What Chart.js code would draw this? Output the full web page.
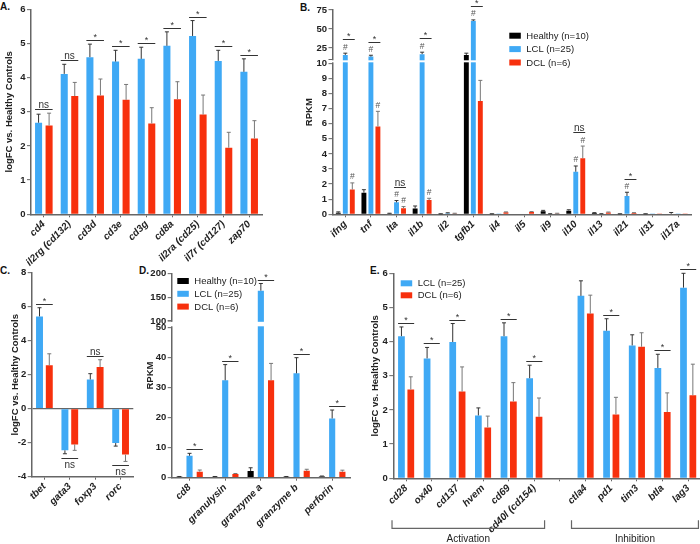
<!DOCTYPE html>
<html>
<head>
<meta charset="utf-8">
<title>T-cell gene expression in LCL and DCL lesions</title>
<script src="https://cdn.jsdelivr.net/npm/chart.js@4.4.1/dist/chart.umd.min.js"></script>
<style>
html,body{margin:0;padding:0;background:#fff}
body{position:relative;width:700px;height:544px;overflow:hidden;font-family:"Liberation Sans",Arial,sans-serif}
canvas{position:absolute}
.pl{position:absolute;font-weight:bold;font-size:10px;color:#111;line-height:10px}
</style>
</head>
<body>
<div class="pl" style="left:0;top:2px">A.</div>
<div class="pl" style="left:300px;top:3px">B.</div>
<div class="pl" style="left:0;top:266px">C.</div>
<div class="pl" style="left:139px;top:266px">D.</div>
<div class="pl" style="left:370px;top:266px">E.</div>
<canvas id="cA" width="268" height="268" style="left:0;top:0"></canvas>
<canvas id="cB" width="400" height="268" style="left:300px;top:0"></canvas>
<canvas id="cC" width="140" height="282" style="left:0;top:262px"></canvas>
<canvas id="cD" width="225" height="282" style="left:140px;top:262px"></canvas>
<canvas id="cE" width="337" height="282" style="left:368px;top:262px"></canvas>
<script>
// ---------------- DATA ----------------
const groupNames = ['Healthy (n=10)', 'LCL (n=25)', 'DCL (n=6)'];

// Panel A
const catsA = ['cd4','il2rg (cd132)','cd3d','cd3e','cd3g','cd8a','il2ra (cd25)','il7r (cd127)','zap70'];
const lclA = [2.68, 4.11, 4.60, 4.47, 4.55, 4.93, 5.22, 4.49, 4.17];
const lclAErr = [0.25, 0.28, 0.38, 0.33, 0.34, 0.41, 0.45, 0.31, 0.38];
const dclA = [2.60, 3.46, 3.48, 3.35, 2.66, 3.37, 2.92, 1.95, 2.22];
const dclAErr = [0.36, 0.40, 0.48, 0.45, 0.46, 0.51, 0.57, 0.45, 0.52];
const sigA = ['ns','ns','*','*','*','*','*','*','*'];
const ticksA = [0,1,2,3,4,5,6];

// Panel B
const catsB = ['ifng','tnf','lta','il1b','il2','tgfb1','il4','il5','il9','il10','il13','il21','il31','il17a'];
const healthyB = [0.10, 1.43, 0.05, 0.38, 0.02, 16.0, 0.02, 0.00, 0.20, 0.24, 0.08, 0.02, 0.02, 0.03];
const healthyBErr = [0.06, 0.20, 0.02, 0.17, 0.01, 2.3, 0.01, 0.00, 0.06, 0.06, 0.03, 0.01, 0.01, 0.09];
const lclB = [16.0, 13.8, 0.79, 17.0, 0.07, 60.6, 0.02, 0.00, 0.03, 2.82, 0.03, 1.21, 0.02, 0.02];
const lclBErr = [2.3, 1.8, 0.12, 2.6, 0.03, 1.4, 0.00, 0.00, 0.01, 0.38, 0.01, 0.25, 0.00, 0.00];
const dclB = [1.64, 5.82, 0.40, 0.94, 0.05, 7.50, 0.13, 0.15, 0.05, 3.71, 0.12, 0.08, 0.02, 0.02];
const dclBErr = [0.44, 1.00, 0.11, 0.12, 0.02, 1.37, 0.03, 0.03, 0.02, 0.81, 0.03, 0.03, 0.00, 0.00];
const hashLclB = [1,1,1,1,0,1,0,0,0,1,0,1,0,0];
const hashDclB = [1,1,1,1,0,0,0,0,0,1,0,0,0,0];
const sigB = ['*','*','ns','*','','*','','','','ns','','*','',''];
const ticksB = [0,1,2,3,4,5,6,7,8,9,10,25,50,75];

// Panel C
const catsC = ['tbet','gata3','foxp3','rorc'];
const lclC = [5.43, -2.45, 1.72, -2.02];
const lclCErr = [0.51, 0.20, 0.34, 0.18];
const dclC = [2.55, -2.10, 2.45, -2.70];
const dclCErr = [0.68, 0.35, 0.43, 0.40];
const sigC = ['*','ns','ns','ns'];
const ticksC = [-4,-2,0,2,4,6,8];

// Panel D
const catsD = ['cd8','granulysin','granzyme a','granzyme b','perforin'];
const healthyD = [0.3, 0.3, 2.2, 0.3, 0.4];
const healthyDErr = [0.1, 0.1, 1.1, 0.1, 0.15];
const lclD = [7.3, 32.4, 163.6, 34.7, 19.7];
const lclDErr = [0.8, 5.2, 15.0, 5.2, 2.8];
const dclD = [2.0, 1.2, 32.4, 2.3, 2.0];
const dclDErr = [0.55, 0.2, 5.6, 0.5, 0.5];
const sigD = ['*','*','*','*','*'];
const ticksD = [0,10,20,30,40,50,100,150,200];

// Panel E
const catsE = ['cd28','ox40','cd137','hvem','cd69','cd40l (cd154)','','ctla4','pd1','tim3','btla','lag3'];
const lclE = [4.16, 3.51, 3.99, 1.84, 4.16, 2.93, null, 5.34, 4.32, 3.89, 3.23, 5.58];
const lclEErr = [0.27, 0.32, 0.54, 0.22, 0.39, 0.38, null, 0.44, 0.35, 0.31, 0.40, 0.42];
const dclE = [2.60, null, 2.54, 1.49, 2.25, 1.80, null, 4.82, 1.87, 3.85, 1.94, 2.43];
const dclEErr = [0.37, null, 0.72, 0.33, 0.55, 0.55, null, 0.54, 0.50, 0.41, 0.56, 0.91];
const sigE = ['*','*','*','','*','*','','','*','','*','*'];
const ticksE = [0,1,2,3,4,5,6];
const bracketsE = [{from:0, to:5, label:'Activation'}, {from:7, to:11, label:'Inhibition'}];

// ---------------- STYLE ----------------
const AX = '#666';
const BLUE = '#3FA9F5', RED = '#F7300D', BLACK = '#000000';
const FAM = '"Liberation Sans", Arial, sans-serif';
Chart.defaults.font.family = FAM;
Chart.defaults.color = '#222';

// broken axis layout (fractions of axis height)
const BREAKS = {
  cB: [{from:0, to:10, f0:0, f1:0.739}, {from:10, to:75, f0:0.7577, f1:1}],
  cD: [{from:0, to:50, f0:0, f1:0.7358}, {from:100, to:200, f0:0.7666, f1:1}]
};

class BrokenLinear extends Chart.LinearScale {
  _segs() { return BREAKS[this.chart.canvas.id]; }
  getPixelForValue(v) {
    if (v === null || v === undefined || isNaN(v)) return NaN;
    const s = this._segs();
    let f;
    if (v <= s[0].to) f = s[0].f0 + (v - s[0].from) / (s[0].to - s[0].from) * (s[0].f1 - s[0].f0);
    else if (v < s[1].from) f = s[0].f1;
    else f = s[1].f0 + (v - s[1].from) / (s[1].to - s[1].from) * (s[1].f1 - s[1].f0);
    return this.bottom - f * (this.bottom - this.top);
  }
  getValueForPixel(p) {
    const s = this._segs();
    const f = (this.bottom - p) / (this.bottom - this.top);
    if (f <= s[0].f1) return s[0].from + (f - s[0].f0) / (s[0].f1 - s[0].f0) * (s[0].to - s[0].from);
    return s[1].from + (f - s[1].f0) / (s[1].f1 - s[1].f0) * (s[1].to - s[1].from);
  }
}
BrokenLinear.id = 'brokenLinear';
BrokenLinear.defaults = {};
Chart.register(BrokenLinear);

// ---------------- ANNOTATION PLUGIN ----------------
const annotPlugin = {
  id: 'annot',
  afterDatasetsDraw(chart, args, o) {
    const ctx = chart.ctx, ys = chart.scales.y, xs = chart.scales.x, ca = chart.chartArea;
    const dsets = chart.data.datasets;
    ctx.save();
    // axis break
    const br = BREAKS[chart.canvas.id];
    if (br) {
      const pLow = ys.bottom - br[0].f1 * (ys.bottom - ys.top);
      const pHigh = ys.bottom - br[1].f0 * (ys.bottom - ys.top);
      ctx.fillStyle = '#fff';
      ctx.fillRect(ca.left - 1.5, pHigh + 0.8, ca.right - ca.left + 2, pLow - pHigh - 1.8);
      ctx.strokeStyle = AX; ctx.lineWidth = 1;
      ctx.beginPath(); ctx.moveTo(ca.left - 4, pHigh); ctx.lineTo(ca.left, pHigh); ctx.stroke();
    }
    // error bars & extents
    const ext = dsets.map(() => []);
    dsets.forEach((ds, di) => {
      const meta = chart.getDatasetMeta(di);
      const errs = o.errors[di];
      const hashes = o.hashes ? o.hashes[di] : null;
      meta.data.forEach((bar, i) => {
        const v = ds.data[i];
        if (v === null || v === undefined) { ext[di][i] = null; return; }
        const e = errs ? (errs[i] || 0) : 0;
        const end = v < 0 ? v - e : v + e;
        const py = ys.getPixelForValue(end);
        let top = Math.min(py, bar.y, bar.base), bottom = Math.max(py, bar.y, bar.base);
        if (e > 0) {
          ctx.strokeStyle = o.errColors[di]; ctx.lineWidth = 1;
          ctx.beginPath();
          ctx.moveTo(bar.x, bar.y); ctx.lineTo(bar.x, py);
          ctx.moveTo(bar.x - 2, py); ctx.lineTo(bar.x + 2, py);
          ctx.stroke();
        }
        if (hashes && hashes[i]) {
          ctx.fillStyle = '#555';
          ctx.font = '8.5px ' + FAM;
          ctx.textAlign = 'center'; ctx.textBaseline = 'alphabetic';
          ctx.fillText('#', bar.x, py - 3.5);
          top = py - 9.7;
        }
        ext[di][i] = {top, bottom, neg: v < 0};
      });
    });
    // significance
    if (o.sig) {
      const a = o.sig.a, b = o.sig.b;
      const ma = chart.getDatasetMeta(a), mb = chart.getDatasetMeta(b);
      o.sig.marks.forEach((m, i) => {
        if (!m) return;
        const A = ma.data[i], B = mb.data[i];
        const w = A.width || 6;
        const bx = isFinite(B.x) ? B.x : A.x + 9.5;
        const x1 = A.x - w / 2, x2 = bx + w / 2, cx = (x1 + x2) / 2;
        const ea = ext[a][i], eb = ext[b][i];
        const list = [ea, eb].filter(Boolean);
        const neg = list.length && list.every(e => e.neg);
        ctx.strokeStyle = '#333'; ctx.lineWidth = 1;
        ctx.fillStyle = '#333'; ctx.textAlign = 'center';
        ctx.font = (m === '*' ? '9px ' : '10px ') + FAM;
        if (!neg) {
          const ly = Math.round(Math.min(...list.map(e => e.top)) - 4) + 0.5;
          ctx.beginPath(); ctx.moveTo(x1, ly); ctx.lineTo(x2, ly); ctx.stroke();
          ctx.textBaseline = 'alphabetic';
          ctx.fillText(m, cx, ly - (m === '*' ? 0.5 : 2));
        } else {
          const ly = Math.round(Math.max(...list.map(e => e.bottom)) + 4) + 0.5;
          ctx.beginPath(); ctx.moveTo(x1, ly); ctx.lineTo(x2, ly); ctx.stroke();
          ctx.textBaseline = 'top';
          ctx.fillText(m, cx, ly + 1.5);
        }
      });
    }
    // legend
    if (o.legend) {
      const L = o.legend;
      ctx.font = '9.5px ' + FAM; ctx.textAlign = 'left'; ctx.textBaseline = 'middle';
      dsets.forEach((ds, di) => {
        const y = L.y + di * L.dy;
        ctx.fillStyle = ds.backgroundColor;
        ctx.fillRect(L.x, y - 3, 11.5, 6);
        ctx.fillStyle = '#222';
        ctx.fillText(ds.label, L.x + 17, y + 0.5);
      });
    }
    // brackets
    if (o.brackets) {
      const cw = xs.getPixelForValue(1) - xs.getPixelForValue(0);
      ctx.strokeStyle = AX; ctx.lineWidth = 1.2;
      ctx.font = '10px ' + FAM; ctx.fillStyle = '#222';
      ctx.textAlign = 'center'; ctx.textBaseline = 'alphabetic';
      o.brackets.forEach(bk => {
        const x1 = xs.getPixelForValue(bk.from) - 0.55 * cw;
        const x2 = xs.getPixelForValue(bk.to) + 0.4 * cw;
        const y = o.bracketY, yt = y - 8;
        ctx.beginPath();
        ctx.moveTo(x1, yt); ctx.lineTo(x1, y); ctx.lineTo(x2, y); ctx.lineTo(x2, yt);
        ctx.stroke();
        ctx.fillText(bk.label, (x1 + x2) / 2, y + 14);
      });
    }
    ctx.restore();
  }
};

// ---------------- CHART FACTORY ----------------
function makeChart(cfg) {
  const cv = document.getElementById(cfg.id);
  const tickList = cfg.ticks;
  const yScale = {
    type: cfg.broken ? 'brokenLinear' : 'linear',
    min: tickList[0], max: tickList[tickList.length - 1],
    afterBuildTicks: s => { s.ticks = tickList.map(v => ({value: v})); },
    ticks: {autoSkip: false, padding: 1.5, color: '#222', font: {size: 9.5, weight: 'bold'}, callback: v => String(v)},
    grid: {
      drawOnChartArea: !!cfg.zeroLine,
      color: cfg.zeroLine ? (c => (c.tick && c.tick.value === 0) ? AX : 'rgba(0,0,0,0)') : AX,
      lineWidth: 1.3, tickColor: AX, tickLength: 4, tickWidth: 1
    },
    border: {color: AX, width: 1.5},
    title: {display: true, text: cfg.yTitle, color: '#222', font: {size: 9.5, weight: 'bold'}, padding: {top: cfg.titlePad, bottom: 0}},
    afterFit: s => { s.width = cfg.yW; }
  };
  const xScale = {
    type: 'category', offset: true,
    grid: {display: true, drawOnChartArea: false, offset: false, color: AX, tickLength: 3, tickWidth: 1},
    border: {color: AX, width: 1.5},
    ticks: {autoSkip: false, minRotation: 45, maxRotation: 45, padding: 1, color: '#222', font: {size: 10, weight: 'bold', style: 'italic'}},
    afterFit: s => { s.height = cfg.xH; }
  };
  return new Chart(cv, {
    type: 'bar',
    data: {
      labels: cfg.labels,
      datasets: cfg.series.map(s => ({label: s.label, data: s.data, backgroundColor: s.color, borderWidth: 0,
        categoryPercentage: cfg.cp, barPercentage: cfg.bp}))
    },
    options: {
      responsive: false, animation: false, events: [],
      layout: {padding: {left: 0, top: cfg.padTop, right: cfg.padRight, bottom: 0}},
      plugins: {
        legend: {display: false}, tooltip: {enabled: false},
        annot: {
          errors: cfg.series.map(s => s.err),
          errColors: cfg.series.map(s => s.errColor),
          hashes: cfg.hashes || null,
          sig: cfg.sig || null,
          legend: cfg.legend || null,
          brackets: cfg.brackets || null,
          bracketY: cfg.bracketY
        }
      },
      scales: {x: xScale, y: yScale}
    },
    plugins: [annotPlugin]
  });
}

const S = {
  healthy: (d, e) => ({label: groupNames[0], data: d, err: e, color: BLACK, errColor: '#333'}),
  lcl: (d, e) => ({label: groupNames[1], data: d, err: e, color: BLUE, errColor: '#333'}),
  dcl: (d, e) => ({label: groupNames[2], data: d, err: e, color: RED, errColor: '#777'})
};

// Panel A
makeChart({id: 'cA', labels: catsA, series: [S.lcl(lclA, lclAErr), S.dcl(dclA, dclAErr)],
  ticks: ticksA, yTitle: 'logFC vs. Healthy Controls', titlePad: 3.3,
  yW: 31, xH: 53.7, padTop: 9.3, padRight: 6, cp: 0.82, bp: 0.67,
  sig: {a: 0, b: 1, marks: sigA}});

// Panel B
makeChart({id: 'cB', labels: catsB,
  series: [S.healthy(healthyB, healthyBErr), S.lcl(lclB, lclBErr), S.dcl(dclB, dclBErr)],
  ticks: ticksB, broken: true, yTitle: 'RPKM', titlePad: 3.3,
  yW: 32.5, xH: 53.7, padTop: 10, padRight: 9, cp: 0.82, bp: 0.7,
  hashes: [null, hashLclB, hashDclB],
  sig: {a: 1, b: 2, marks: sigB},
  legend: {x: 209.3, y: 35.7, dy: 13.4}});

// Panel C
makeChart({id: 'cC', labels: catsC, series: [S.lcl(lclC, lclCErr), S.dcl(dclC, dclCErr)],
  ticks: ticksC, zeroLine: true, yTitle: 'logFC vs. Healthy Controls', titlePad: 9.3,
  yW: 31.7, xH: 67.3, padTop: 10.7, padRight: 6.7, cp: 0.77, bp: 0.71,
  sig: {a: 0, b: 1, marks: sigC}});

// Panel D
makeChart({id: 'cD', labels: catsD,
  series: [S.healthy(healthyD, healthyDErr), S.lcl(lclD, lclDErr), S.dcl(dclD, dclDErr)],
  ticks: ticksD, broken: true, yTitle: 'RPKM', titlePad: 4.3,
  yW: 31.7, xH: 66.3, padTop: 11.3, padRight: 15, cp: 0.86, bp: 0.6,
  sig: {a: 1, b: 2, marks: sigD},
  legend: {x: 37.3, y: 19, dy: 12.8}});

// Panel E
makeChart({id: 'cE', labels: catsE, series: [S.lcl(lclE, lclEErr), S.dcl(dclE, dclEErr)],
  ticks: ticksE, yTitle: 'logFC vs. Healthy Controls', titlePad: 1.3,
  yW: 25.3, xH: 65.7, padTop: 11.3, padRight: 4, cp: 0.73, bp: 0.72,
  sig: {a: 0, b: 1, marks: sigE},
  legend: {x: 32.7, y: 21.3, dy: 12},
  brackets: bracketsE, bracketY: 266.3});
</script>
</body>
</html>
